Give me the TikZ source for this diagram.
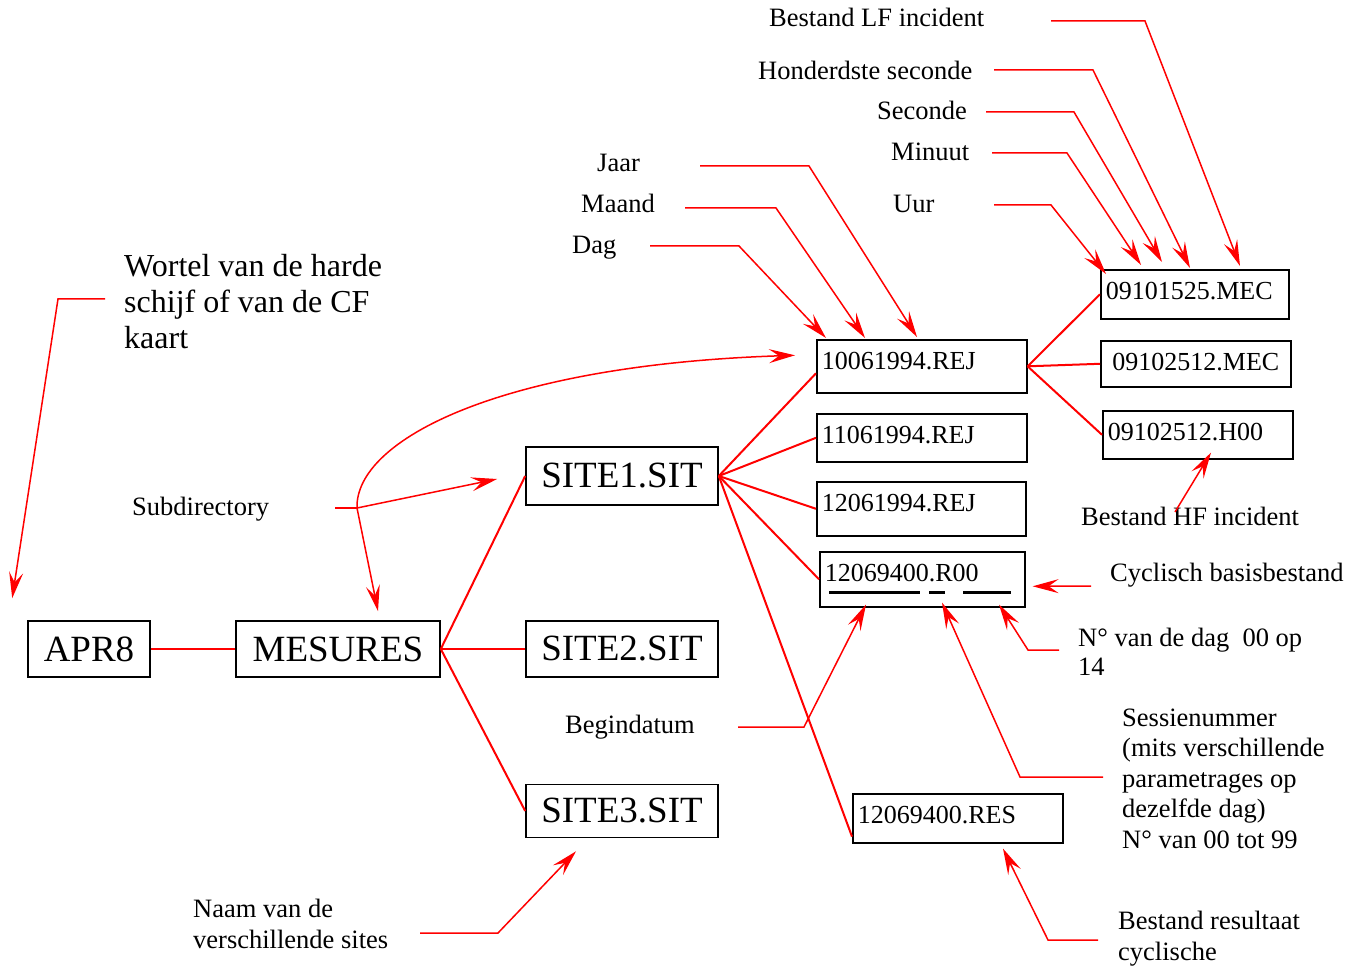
\documentclass[tikz,border=0pt]{standalone}
\usepackage{fontspec}
\setmainfont{Liberation Serif}
\usetikzlibrary{arrows.meta}

\begin{document}
\begin{tikzpicture}[x=1pt,y=-1pt,
	bigbox/.style={draw,line width=1.6pt,font=\fontsize{37}{44}\selectfont,minimum height=56pt,inner sep=0pt},
	filebox/.style={draw,line width=1.6pt,anchor=north west,font=\fontsize{26}{31}\selectfont,inner xsep=5pt,inner ysep=0pt,text height=30pt,text depth=20pt,align=left},
	lbl/.style={anchor=base west,font=\fontsize{26.5}{31}\selectfont,align=left,inner sep=0pt},
	link/.style={red,line width=2pt},
	pijl/.style={red,line width=1.5pt,-{Stealth[length=26pt,width=14pt,inset=10pt]}}]
		\useasboundingbox (0,0) rectangle (1363,973);
		\node[bigbox,minimum width=122pt] (apr) at (89,649) {APR8};
		\node[bigbox,minimum width=204pt] (mes) at (338,649) {MESURES};
		\node[bigbox,minimum width=192pt,minimum height=58pt] (site1) at (622,476) {SITE1.SIT};
		\node[bigbox,minimum width=192pt] (site2) at (622,649) {SITE2.SIT};
		\node[bigbox,minimum width=192pt,minimum height=53pt] (site3) at (622,811) {SITE3.SIT};
		%%%%%%%%%%%%%%%%%%%%%%%%%%%%%%%%%
		\node[filebox,text width=200pt,text depth=23pt] (rej1) at (816,339) {10061994.REJ};
		\node[filebox,text width=200pt,text depth=18pt] (rej2) at (816,413) {11061994.REJ};
		\node[filebox,text width=199pt,text depth=24pt] (rej3) at (816,481) {12061994.REJ};
		\node[filebox,text width=195pt,text depth=25pt] (r00) at (819,551) {12069400.R00};
		\node[filebox,text width=200pt,text depth=19pt] (res) at (852,793) {12069400.RES};
		\node[filebox,text width=178pt,text depth=19pt] (mec1) at (1100,269) {09101525.MEC};
		\node[filebox,text width=180pt,text depth=16pt,align=center] (mec2) at (1100,340) {09102512.MEC};
		\node[filebox,text width=180pt,text depth=18pt] (h00) at (1102,410) {09102512.H00};
		\draw[line width=3pt] ([shift={(10,41)}]r00.north west) -- ++(91,0);
		\draw[line width=3pt] ([shift={(110,41)}]r00.north west) -- ++(16,0);
		\draw[line width=3pt] ([shift={(144,41)}]r00.north west) -- ++(48,0);
		%%%%%%%%%%%%%%%%%%%%%%%%%%%%%%%%%
		\draw[link] (apr) -- (mes);
		\draw[link] (mes.east) -- (site1.west);
		\draw[link] (mes.east) -- (site2.west);
		\draw[link] (mes.east) -- (site3.west);
		\draw[link] (site1.east) -- ([shift={(0,7)}]rej1.west);
		\draw[link] (site1.east) -- (rej2.west);
		\draw[link] (site1.east) -- (rej3.west);
		\draw[link] (site1.east) -- (r00.west);
		\draw[link] (site1.east) -- ([shift={(0,-7)}]res.south west);
		\draw[link] (rej1.east) -- (mec1.west);
		\draw[link] (rej1.east) -- (mec2.west);
		\draw[link] (rej1.east) -- (h00.west);
		%%%%%%%%%%%%%%%%%%%%%%%%%%%%%%%%%
		\node[lbl] (lf) at (769,27) {Bestand LF incident};
		\node[lbl] (hond) at (758,80) {Honderdste seconde};
		\node[lbl] (sec) at (877,120) {Seconde};
		\node[lbl] (minu) at (891,161) {Minuut};
		\node[lbl] (uur) at (893,213) {Uur};
		\node[lbl] (jaar) at (597,172) {Jaar};
		\node[lbl] (maand) at (581,213) {Maand};
		\node[lbl] (dag) at (572,254) {Dag};
		% multi-line labels sit on their last line
		\node[lbl,font=\fontsize{32}{36}\selectfont] (wortel) at (124,349) {Wortel van de harde\\schijf of van de CF\\kaart};
		\node[lbl] (subdir) at (132,515) {Subdirectory};
		\node[lbl] (hf) at (1081,525) {Bestand HF incident};
		\node[lbl] (cycl) at (1110,581) {Cyclisch basisbestand};
		\node[lbl,font=\fontsize{26.5}{29}\selectfont] (ndag) at (1078,675) {N° van de dag~ 00 op\\14};
		\node[lbl] (begin) at (565,733) {Begindatum};
		\node[lbl,font=\fontsize{26.5}{30.5}\selectfont] (sessie) at (1122,848) {Sessienummer\\(mits verschillende\\parametrages op\\dezelfde dag)\\N° van 00 tot 99};
		\node[lbl] (naam) at (193,948) {Naam van de\\verschillende sites};
		\node[lbl] (result) at (1118,960) {Bestand resultaat\\cyclische};
		%%%%%%%%%%%%%%%%%%%%%%%%%%%%%%%%%
		\coordinate (lf-s) at (1051,21); \coordinate (lf-k) at (1145,21);
		\draw[pijl] (lf-s) -- (lf-k) -- ([shift={(140,-3)}]mec1.north west);
		\coordinate (hond-s) at (994,70); \coordinate (hond-k) at (1093,70);
		\draw[pijl] (hond-s) -- (hond-k) -- ([shift={(90,-1)}]mec1.north west);
		\coordinate (sec-s) at (986,112); \coordinate (sec-k) at (1074,112);
		\draw[pijl] (sec-s) -- (sec-k) -- ([shift={(62,-7)}]mec1.north west);
		\coordinate (minu-s) at (992,153); \coordinate (minu-k) at (1067,153);
		\draw[pijl] (minu-s) -- (minu-k) -- ([shift={(41,-4)}]mec1.north west);
		\coordinate (uur-s) at (994,205); \coordinate (uur-k) at (1051,205);
		\draw[pijl] (uur-s) -- (uur-k) -- ([shift={(6,5)}]mec1.north west);
		\coordinate (jaar-s) at (700,166); \coordinate (jaar-k) at (809,166);
		\draw[pijl] (jaar-s) -- (jaar-k) -- ([shift={(101,-2)}]rej1.north west);
		\coordinate (maand-s) at (685,208); \coordinate (maand-k) at (776,208);
		\draw[pijl] (maand-s) -- (maand-k) -- ([shift={(49,-1)}]rej1.north west);
		\coordinate (dag-s) at (650,246); \coordinate (dag-k) at (739,246);
		\draw[pijl] (dag-s) -- (dag-k) -- ([shift={(10,-1)}]rej1.north west);
		%%%%%%%%%%%%%%%%%%%%%%%%%%%%%%%%%
		\coordinate (wo-s) at (105,299); \coordinate (wo-k) at (58,299);
		\draw[pijl] (wo-s) -- (wo-k) -- ([shift={(-15,-22)}]apr.north west);
		\coordinate (sd-s) at (335,508); \coordinate (sd-k) at (357,508);
		\draw[red,line width=1.5pt] (sd-s) -- (sd-k);
		\draw[pijl] (sd-k) -- ([shift={(-28,3)}]site1.west);
		\draw[pijl] (sd-k) -- ([shift={(40,-9)}]mes.north);
		\draw[pijl] (sd-k) .. controls (355,440) and (500,365) .. ([shift={(-21,-11)}]rej1.west);
		\coordinate (hf-s) at (1175,512);
		\draw[pijl] (hf-s) -- ([shift={(109,-7)}]h00.south west);
		\coordinate (cy-s) at (1091,586);
		\draw[pijl] (cy-s) -- ([shift={(7,7)}]r00.east);
		\coordinate (nd-s) at (1059,650); \coordinate (nd-k) at (1028,650);
		\draw[pijl] (nd-s) -- (nd-k) -- ([shift={(180,-3)}]r00.south west);
		\coordinate (se-s) at (1103,777); \coordinate (se-k) at (1020,777);
		\draw[pijl] (se-s) -- (se-k) -- ([shift={(123,-5)}]r00.south west);
		\coordinate (bd-s) at (738,727); \coordinate (bd-k) at (804,727);
		\draw[pijl] (bd-s) -- (bd-k) -- ([shift={(47,-3)}]r00.south west);
		\coordinate (na-s) at (420,933); \coordinate (na-k) at (498,933);
		\draw[pijl] (na-s) -- (na-k) -- ([shift={(-46,13)}]site3.south);
		\coordinate (re-s) at (1098,940); \coordinate (re-k) at (1048,940);
		\draw[pijl] (re-s) -- (re-k) -- ([shift={(151,5)}]res.south west);
	\end{tikzpicture}
\end{document}
